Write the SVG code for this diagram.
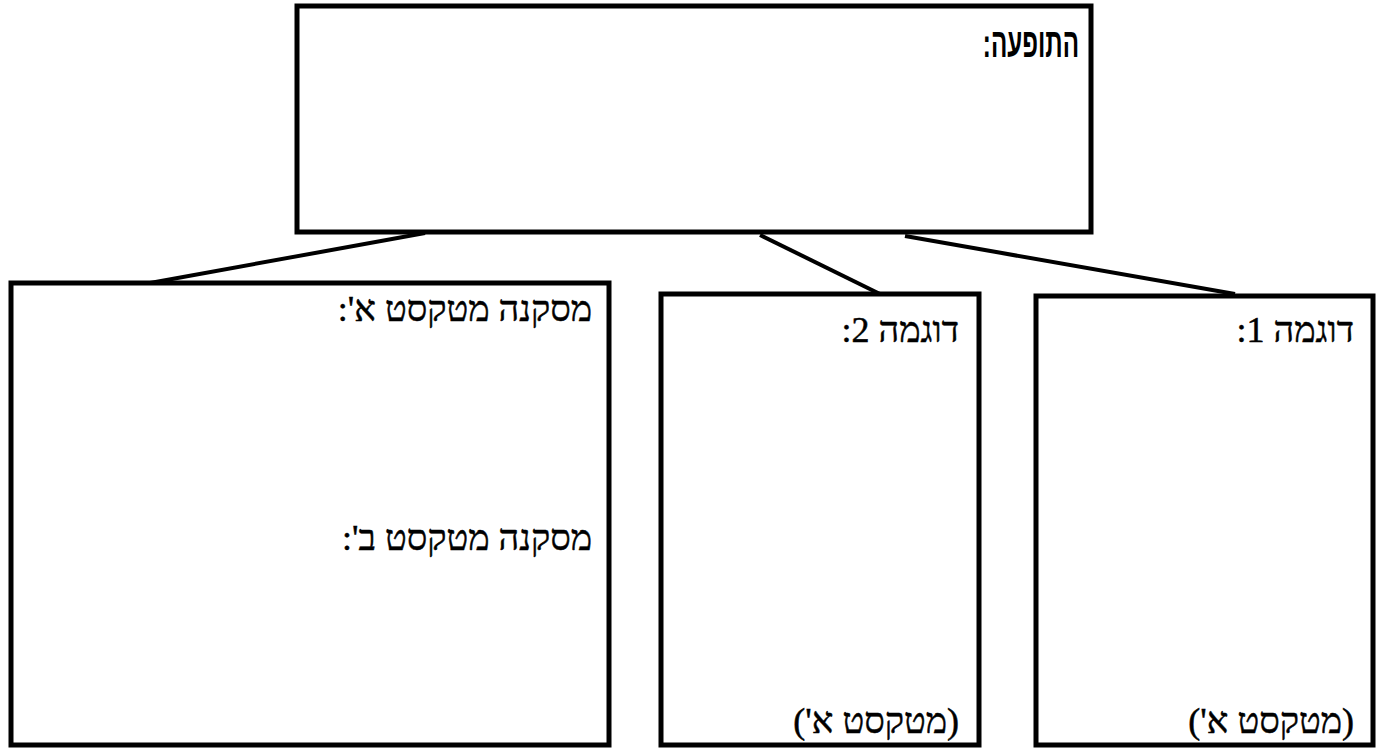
<svg xmlns="http://www.w3.org/2000/svg" width="1379" height="749" viewBox="0 0 1379 749">
<style>
.box{fill:#fff;stroke:#000;stroke-width:5}
.ln{stroke:#000;stroke-width:4;fill:none}
.t{font-family:"Liberation Serif","DejaVu Serif",serif;font-size:36px;fill:#000;stroke:#000;stroke-width:0.5}
.h{font-family:"Liberation Sans","DejaVu Sans",sans-serif;font-size:41px;font-weight:bold;fill:#000}
</style>
<rect x="0" y="0" width="1379" height="749" fill="#fff"/>
<g id="connectors">
<line class="ln" x1="425" y1="233" x2="150" y2="283"/>
<line class="ln" x1="760" y1="235" x2="880" y2="294"/>
<line class="ln" x1="905" y1="236" x2="1235" y2="294"/>
</g>
<g id="node-phenomenon">
<rect class="box" x="297" y="6" width="794" height="226"/>
<text class="h" transform="translate(1079,57) scale(0.59,1)" x="0" y="0" direction="rtl" text-anchor="start">התופעה:</text>
</g>
<g id="node-conclusion">
<rect class="box" x="11" y="283" width="598" height="462"/>
<text class="t" x="592" y="321" direction="rtl" text-anchor="start">מסקנה מטקסט א':</text>
<text class="t" x="592" y="550" direction="rtl" text-anchor="start">מסקנה מטקסט ב':</text>
</g>
<g id="node-example2">
<rect class="box" x="661" y="294" width="318" height="451"/>
<text class="t" x="959" y="342" direction="rtl" text-anchor="start">דוגמה 2:</text>
<text class="t" x="959" y="733" direction="rtl" text-anchor="start">(מטקסט א')</text>
</g>
<g id="node-example1">
<rect class="box" x="1036" y="296" width="337" height="449"/>
<text class="t" x="1354" y="342" direction="rtl" text-anchor="start">דוגמה 1:</text>
<text class="t" x="1354" y="733" direction="rtl" text-anchor="start">(מטקסט א')</text>
</g>
</svg>
